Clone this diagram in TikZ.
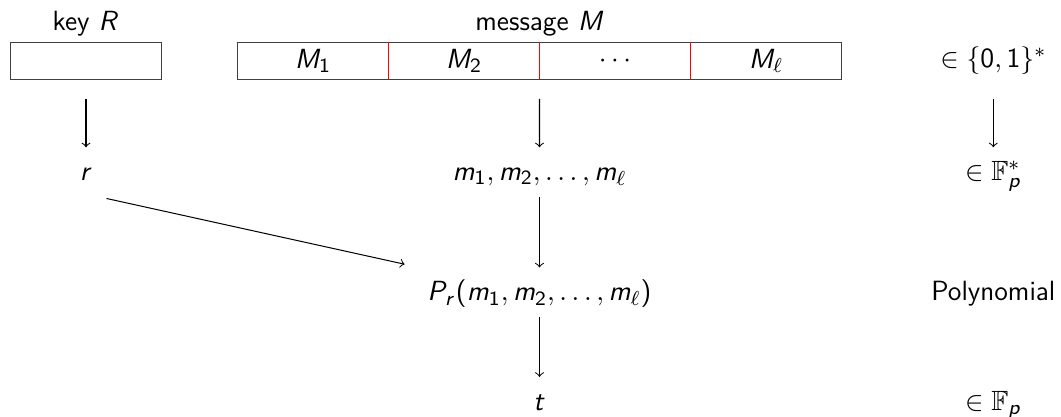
\documentclass[tikz,border=0pt]{standalone}
\usepackage{amssymb}
\usetikzlibrary{fit}

% sans serif math letters and digits
\DeclareSymbolFont{sfslanted}{OT1}{cmss}{m}{sl}
\SetSymbolFont{operators}{normal}{OT1}{cmss}{m}{n}
\DeclareMathSymbol{M}{\mathalpha}{sfslanted}{`M}
\DeclareMathSymbol{R}{\mathalpha}{sfslanted}{`R}
\DeclareMathSymbol{P}{\mathalpha}{sfslanted}{`P}
\DeclareMathSymbol{m}{\mathalpha}{sfslanted}{`m}
\DeclareMathSymbol{r}{\mathalpha}{sfslanted}{`r}
\DeclareMathSymbol{t}{\mathalpha}{sfslanted}{`t}
\DeclareMathSymbol{p}{\mathalpha}{sfslanted}{`p}

\begin{document}
\begin{tikzpicture}[
        >=to,
        every node/.style={font=\fontsize{11}{13}\selectfont\sffamily},
        box/.style={
            rectangle,
            draw=black!75,
            minimum width=2.0978cm,
            minimum height=0.514cm,
            inner sep=0pt
        },
        seg/.style={
            rectangle,
            outer sep=0pt,
            minimum width=2.0978cm,
            minimum height=0.514cm,
            inner sep=0pt
        },
        divider/.style={
            draw=red,
            line width=0.6pt
        },
        lab/.style={
            anchor=base,
            inner sep=3pt,
            text height=10pt,
            text depth=3.3pt
        },
        arrow/.style={
            ->,
            draw=black
        }
    ]

    \useasboundingbox (0, 0) rectangle (14.74, -5.78);

    % key and message blocks
    \node[box] (key) at (1.1948, -0.8475) {};
    \node[anchor=base] (keylab) at (1.19, -0.42) {key $R$};

    \foreach \i/\txt in {1/$M_1$, 2/$M_2$, 3/$\cdots$, 4/$M_\ell$}
        \node[seg] (m\i) at ({4.3484+2.0978*(\i-1)}, -0.8475) {\txt};
    \node[box, fit=(m1)(m4)] (msg) {};
    \node[anchor=base] (msglab) at (7.5, -0.42) {message $M$};

    \node[box, draw=none] (bits) at (13.8, -0.8475) {$\in \{0,1\}^*$};

    % field elements
    \node[lab] (r)     at (1.1948, -2.51) {$r$};
    \node[lab] (mlist) at (7.495, -2.51)  {$m_1, m_2, \ldots, m_\ell$};
    \node[lab] (field) at (13.8, -2.51)   {$\in \mathbb{F}_p^*$};

    % evaluation
    \node[lab] (poly)    at (7.495, -4.18) {$P_r(m_1, m_2, \ldots, m_\ell)$};
    \node[lab] (polylab) at (13.8, -4.18)  {Polynomial};

    \node[lab] (tag)      at (7.495, -5.7) {$t$};
    \node[lab] (tagfield) at (13.8, -5.7)  {$\in \mathbb{F}_p$};

    \draw[arrow, shorten <=7.5pt] (key) -- (r);
    \draw[arrow, shorten <=7.5pt] (msg.south) -- (mlist);
    \draw[arrow, shorten <=7.5pt] (bits) -- (field);
    \draw[arrow] (mlist) -- (poly);
    \draw[arrow] (poly) -- (tag);
    \draw[arrow, shorten <=2.5pt, shorten >=6pt] (r.south east) -- (poly.north west);

    \foreach \i in {1,2,3}
        \draw[divider] (m\i.north east) -- (m\i.south east);

\end{tikzpicture}
\end{document}
